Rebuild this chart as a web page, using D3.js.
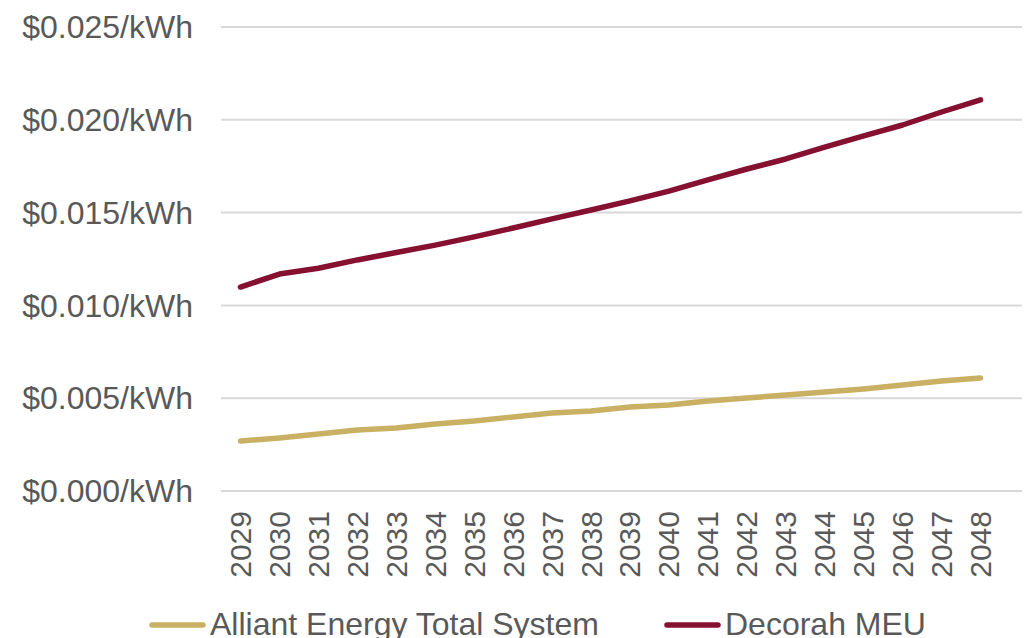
<!DOCTYPE html>
<html>
<head>
<meta charset="utf-8">
<script src="https://cdn.jsdelivr.net/npm/d3@7"></script>
<style>
  html, body { margin: 0; padding: 0; background: #fff; }
  svg { display: block; font-family: "Liberation Sans", Arial, sans-serif; }
</style>
</head>
<body>
<svg id="chart" width="1026" height="638"></svg>
<script>
// Annual cost per kWh, 2029–2048
const years = ["2029","2030","2031","2032","2033","2034","2035","2036","2037","2038",
               "2039","2040","2041","2042","2043","2044","2045","2046","2047","2048"];
const alliantTotal = [0.00269,0.00286,0.00307,0.00329,0.00339,0.00361,0.00377,0.00399,0.00420,0.00431,
                      0.00453,0.00463,0.00485,0.00501,0.00517,0.00533,0.00550,0.00571,0.00593,0.00609];
const decorahMEU   = [0.01099,0.01169,0.01200,0.01245,0.01285,0.01325,0.01369,0.01417,0.01466,0.01514,
                      0.01563,0.01616,0.01676,0.01735,0.01789,0.01853,0.01913,0.01972,0.02042,0.02107];
const yTicks = [0, 0.005, 0.010, 0.015, 0.020, 0.025];
const seriesNames = ["Alliant Energy Total System", "Decorah MEU"];
const seriesColors = ["#C9B063", "#861030"];

const svg = d3.select("#chart");
const W = 1026, H = 638;
const plot = { left: 221, right: 1000, top: 27, bottom: 491, gridRight: 1022 };

const x = d3.scaleBand().domain(years).range([plot.left, plot.right]);
const y = d3.scaleLinear().domain([0, 0.025]).range([plot.bottom, plot.top]);

// Horizontal gridlines
svg.append("g")
  .selectAll("line")
  .data(yTicks)
  .join("line")
  .attr("x1", plot.left).attr("x2", plot.gridRight)
  .attr("y1", d => y(d)).attr("y2", d => y(d))
  .attr("stroke", "#d9d9d9").attr("stroke-width", 2);

// Y axis labels
const fmt = d3.format("$.3f");
svg.append("g")
  .selectAll("text")
  .data(yTicks)
  .join("text")
  .attr("x", 193).attr("y", d => y(d))
  .attr("dy", "0.35em")
  .attr("text-anchor", "end")
  .attr("font-size", 32)
  .attr("fill", "#595959")
  .text(d => fmt(d) + "/kWh");

// X axis labels, rotated
const xAxis = svg.append("g")
  .attr("transform", `translate(0,${y(0)})`)
  .call(d3.axisBottom(x).tickSize(0).tickPadding(0));
xAxis.select(".domain").remove();
xAxis.selectAll("text")
  .attr("font-family", "'Liberation Sans', Arial, sans-serif")
  .attr("font-size", 30)
  .attr("fill", "#595959")
  .attr("transform", "rotate(-90)")
  .attr("text-anchor", "end")
  .attr("x", -20)
  .attr("y", 0)
  .attr("dy", "0.35em");

// Series lines
const line = d3.line()
  .x((d, i) => x(years[i]) + x.bandwidth() / 2)
  .y(d => y(d));

[alliantTotal, decorahMEU].forEach((vals, k) => {
  svg.append("path")
    .datum(vals)
    .attr("fill", "none")
    .attr("stroke", seriesColors[k])
    .attr("stroke-width", 5.5)
    .attr("stroke-linecap", "round")
    .attr("stroke-linejoin", "round")
    .attr("d", line);
});

// Legend
const legendX = [150, 665];
const lg = svg.append("g").attr("transform", "translate(0,625)");
seriesNames.forEach((name, k) => {
  const gx = legendX[k];
  lg.append("line")
    .attr("x1", gx + 2).attr("x2", gx + 53)
    .attr("y1", 0).attr("y2", 0)
    .attr("stroke", seriesColors[k]).attr("stroke-width", 5.5)
    .attr("stroke-linecap", "round");
  lg.append("text")
    .attr("x", gx + 60).attr("y", 10)
    .attr("font-size", 32)
    .attr("fill", "#595959")
    .text(name);
});
</script>
</body>
</html>
